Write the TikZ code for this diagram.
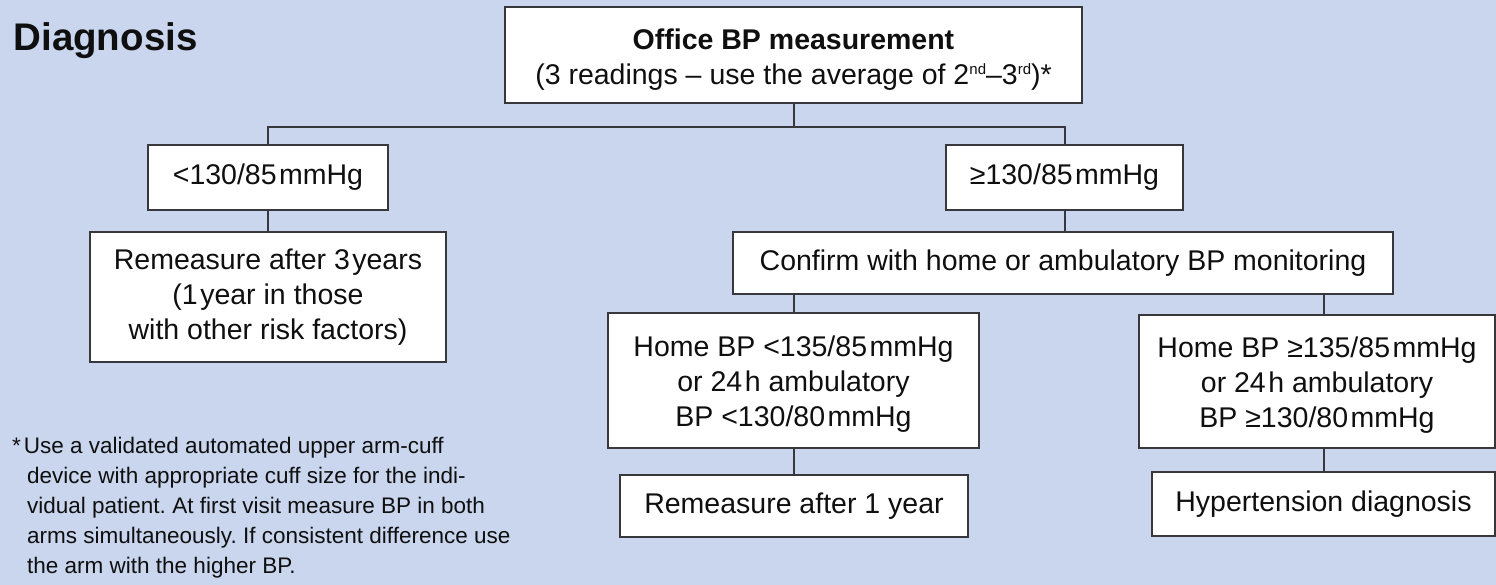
\documentclass[tikz,border=0pt]{standalone}
\usepackage{fontspec}
\setmainfont{Liberation Sans}
\newcommand{\tsp}{\hspace{2.5pt}}
\newcommand{\supr}[1]{\raisebox{0.36em}{\fontsize{15}{15}\selectfont #1}}
\begin{document}
\begin{tikzpicture}[x=1pt,y=-1pt,
  box/.style={draw=boxline, line width=1.8pt, fill=white, inner sep=0pt,
    align=center, text=ink, font=\fontsize{28.5}{35}\selectfont},
  link/.style={draw=boxline, line width=2pt}]
\definecolor{bg}{RGB}{201,214,238}
\definecolor{boxline}{RGB}{55,55,60}
\definecolor{ink}{RGB}{15,15,15}
\frenchspacing
\fill[bg] (0,0) rectangle (1496,585);
\useasboundingbox (0,0) rectangle (1496,585);

\node[anchor=west, text=ink, font=\bfseries\fontsize{38.5}{40}\selectfont] (title) at (10,41) {Diagnosis};

\node[box, minimum width=577pt, minimum height=96pt] (office) at (793.5,55)
  {\rule{0pt}{30pt}\textbf{Office BP measurement}\\(3 readings -- use the average of 2\supr{nd}--3\supr{rd})*};

\node[box, minimum width=240pt, minimum height=65pt] (low) at (268,177.5) {<130/85\tsp mmHg};
\node[box, minimum width=237pt, minimum height=65pt] (high) at (1064.5,177.5) {≥130/85\tsp mmHg};

\node[box, minimum width=356pt, minimum height=130pt] (rem3) at (268,297)
  {Remeasure after 3\tsp years\\(1\tsp year in those\\with other risk factors)};
\node[box, minimum width=660pt, minimum height=62pt] (conf) at (1063,263)
  {Confirm with home or ambulatory BP monitoring};

\node[box, minimum width=371pt, minimum height=135pt] (homelow) at (793.5,380.5)
  {\rule{0pt}{28pt}Home BP <135/85\tsp mmHg\\or 24\tsp h ambulatory\\BP <130/80\tsp mmHg};
\node[box, minimum width=356pt, minimum height=133pt] (homehigh) at (1317,381.5)
  {\rule{0pt}{28pt}Home BP ≥135/85\tsp mmHg\\or 24\tsp h ambulatory\\BP ≥130/80\tsp mmHg};

\node[box, minimum width=348pt, minimum height=62pt] (rem1) at (794,506) {Remeasure after 1 year};
\node[box, minimum width=343pt, minimum height=64pt] (htn) at (1323.5,504) {Hypertension diagnosis};

% footnote
\node[anchor=north west, text=ink, align=left, inner sep=0pt,
  font=\fontsize{22.5}{30}\selectfont] (note) at (12,437)
  {*\hspace{3pt}Use a validated automated upper arm-cuff\\
   \hspace{15pt}device with appropriate cuff size for the indi-\\
   \hspace{15pt}vidual patient. At first visit measure BP in both\\
   \hspace{15pt}arms simultaneously. If consistent difference use\\
   \hspace{15pt}the arm with the higher BP.};

% connectors
\coordinate (split) at (793.5,127);
\draw[link] (office.south) -- (split);
\draw[link] (low.north) |- (split) -| (high.north);
\draw[link] (low.south) -- (rem3.north);
\draw[link] (high.south) -- (high.south |- conf.north);
\draw[link] (homelow.north) -- (homelow.north |- conf.south);
\draw[link] (htn.north |- homehigh.north) -- (htn.north |- conf.south);
\draw[link] (homelow.south) -- (homelow.south |- rem1.north);
\draw[link] (htn.north) -- (htn.north |- homehigh.south);
\end{tikzpicture}
\end{document}
